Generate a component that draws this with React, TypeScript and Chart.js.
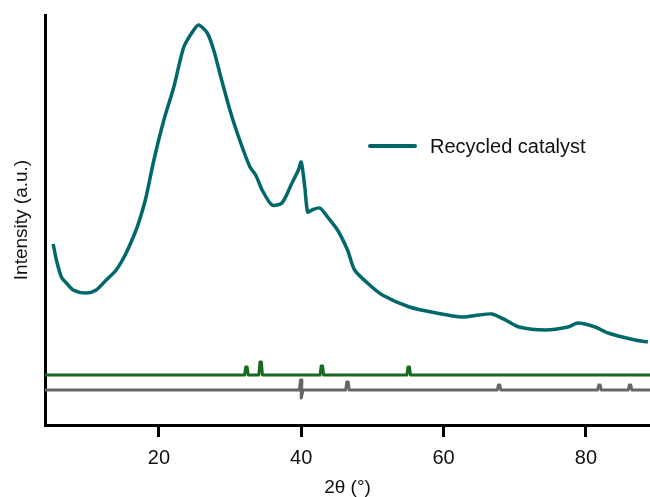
import React, { useEffect, useRef } from "react";
import { Chart, registerables } from "chart.js";

Chart.register(...registerables);

// 2θ positions (degrees) and intensities (a.u.) of the measured pattern
const twoTheta = [
  5.15, 5.6, 6.3, 7.0, 7.95, 9.8, 11.2, 12.6, 14.0, 15.4, 16.8, 17.5, 18.2, 19.3,
  20.7, 22.1, 23.5, 24.9, 25.6, 26.8, 27.7, 28.7, 30.1, 31.5, 32.8, 33.6, 34.5,
  35.9, 37.3, 38.7, 39.6, 40.0, 40.5, 40.9, 41.5, 42.6, 43.7, 45.1, 46.5, 47.5,
  49.3, 51.4, 55.2, 59.0, 62.6, 65.0, 66.8, 68.7, 70.6, 74.3, 77.5, 78.9, 81.3,
  83.1, 86.9, 88.7,
];
const intensity = [
  181, 165, 148, 142, 135, 132, 135, 145, 155, 172, 195, 210, 228, 265,
  305, 338, 378, 395, 400, 392, 375, 348, 312, 282, 258, 250, 235,
  220, 222, 242, 255, 263, 238, 213, 215, 217, 208, 195, 175, 155,
  142, 130, 118, 112, 108, 110, 111, 105, 98, 95, 98, 102, 98,
  92, 85, 83,
];

// Reference pattern 1 (green): peak positions and relative heights
const greenPeaks = [32.3, 34.3, 42.9, 55.1];
const greenHeights = [8, 13, 9, 8];
const greenBase = 50;

// Reference pattern 2 (gray)
const grayPeaks = [40.0, 46.5, 67.8, 81.9, 86.2];
const grayHeights = [10, 8, 5, 5, 5];
const grayDepths = [8, 0, 0, 0, 0];
const grayBase = 35;

const xTicks = [20, 40, 60, 80];
const xMin = 4;
const xMax = 89;
const yMin = 0;
const yMax = 410;

const seriesLabel = "Recycled catalyst";
const xTitle = "2θ (°)";
const yTitle = "Intensity (a.u.)";

function stickPattern(peaks: number[], heights: number[], depths: number[], base: number) {
  const pts: { x: number; y: number }[] = [{ x: xMin, y: base }];
  const w = 0.25;
  peaks.forEach((p, i) => {
    pts.push({ x: p - w, y: base });
    pts.push({ x: p - w * 0.4, y: base + heights[i] });
    pts.push({ x: p + w * 0.4, y: base + heights[i] });
    if (depths[i] > 0) {
      pts.push({ x: p, y: base - depths[i] });
    }
    pts.push({ x: p + w, y: base });
  });
  pts.push({ x: xMax, y: base });
  return pts;
}

const TEAL = "#00686a";
const FAMILY = "'Liberation Sans', Arial, sans-serif";

const legendPlugin = {
  id: "customLegend",
  afterDatasetsDraw(chart: any) {
    const { ctx, chartArea } = chart;
    const lx = chartArea.left + 325;
    const ly = chartArea.top + 131;
    ctx.save();
    ctx.strokeStyle = TEAL;
    ctx.lineWidth = 4;
    ctx.lineCap = "round";
    ctx.beginPath();
    ctx.moveTo(lx, ly);
    ctx.lineTo(lx + 45, ly);
    ctx.stroke();
    ctx.fillStyle = "#111";
    ctx.font = `20px ${FAMILY}`;
    ctx.textBaseline = "middle";
    ctx.fillText(seriesLabel, lx + 60, ly + 1);
    ctx.restore();
  },
};

export default function App() {
  const ref = useRef<HTMLCanvasElement | null>(null);

  useEffect(() => {
    document.body.style.margin = "0";
    if (!ref.current) return;
    const tickFont = { family: FAMILY, size: 20, lineHeight: 1.2 };
    const titleFont = { family: FAMILY, size: 19, lineHeight: 1.0 };
    const chart = new Chart(ref.current, {
      type: "line",
      data: {
        datasets: [
          {
            label: seriesLabel,
            data: twoTheta.map((x, i) => ({ x, y: intensity[i] })),
            borderColor: TEAL,
            borderWidth: 3.5,
            pointRadius: 0,
            tension: 0.25,
            borderJoinStyle: "round",
          },
          {
            label: "ref1",
            data: stickPattern(greenPeaks, greenHeights, greenPeaks.map(() => 0), greenBase),
            borderColor: "#17691f",
            borderWidth: 3,
            pointRadius: 0,
            tension: 0,
            borderJoinStyle: "round",
          },
          {
            label: "ref2",
            data: stickPattern(grayPeaks, grayHeights, grayDepths, grayBase),
            borderColor: "#666666",
            borderWidth: 3,
            pointRadius: 0,
            tension: 0,
            borderJoinStyle: "round",
          },
        ],
      },
      options: {
        responsive: false,
        animation: false,
        layout: { padding: { top: 15, right: 0, left: 0, bottom: 0 } },
        plugins: {
          legend: { display: false },
          tooltip: { enabled: false },
        },
        scales: {
          x: {
            type: "linear",
            min: xMin,
            max: xMax,
            afterBuildTicks: (scale: any) => {
              scale.ticks = xTicks.map((v) => ({ value: v }));
            },
            afterFit: (scale: any) => {
              scale.height = 72;
            },
            border: { display: true, color: "#000", width: 3 },
            grid: {
              drawOnChartArea: false,
              drawTicks: true,
              tickLength: 12,
              tickWidth: 3,
              color: "#000",
            },
            ticks: { color: "#111", font: tickFont, padding: 9, maxRotation: 0 },
            title: {
              display: true,
              text: xTitle,
              color: "#111",
              font: titleFont,
              padding: { top: 0, bottom: 0 },
            },
          },
          y: {
            type: "linear",
            min: yMin,
            max: yMax,
            afterFit: (scale: any) => {
              scale.width = 45;
            },
            border: { display: true, color: "#000", width: 3 },
            grid: { display: false, drawTicks: false },
            ticks: { display: false },
            title: {
              display: true,
              text: yTitle,
              color: "#111",
              font: { family: FAMILY, size: 19, lineHeight: 1.2 },
              padding: { top: 10, bottom: 0 },
            },
          },
        },
      },
      plugins: [legendPlugin],
    });
    return () => chart.destroy();
  }, []);

  return (
    <div style={{ width: 650, height: 497, background: "#fff" }}>
      <canvas ref={ref} width={650} height={497} />
    </div>
  );
}
